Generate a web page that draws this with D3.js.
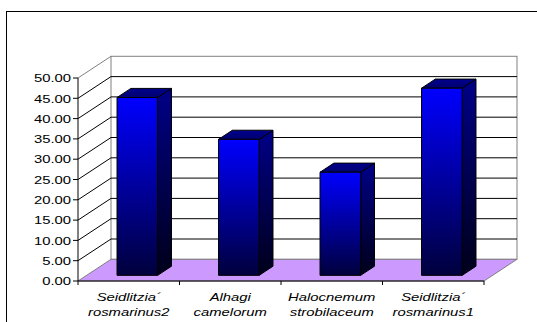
<!DOCTYPE html>
<html>
<head>
<meta charset="utf-8">
<script src="https://cdn.jsdelivr.net/npm/d3@7"></script>
<style>
  body { margin: 0; background: #fff; }
  svg text { font-family: Arial, "Liberation Sans", sans-serif; }
</style>
</head>
<body>
<svg id="chart" width="537" height="322"></svg>
<script>
// Data
const categories = ["Seidlitzia´ rosmarinus2", "Alhagi camelorum", "Halocnemum strobilaceum", "Seidlitzia´ rosmarinus1"];
const labelLines = [["Seidlitzia´", "rosmarinus2"], ["Alhagi", "camelorum"], ["Halocnemum", "strobilaceum"], ["Seidlitzia´", "rosmarinus1"]];
const values = [43.8, 33.5, 25.4, 46.1];
const yTicks = [0, 5, 10, 15, 20, 25, 30, 35, 40, 45, 50];

const svg = d3.select('#chart');

// front plane of the 3d box, and the depth offset
const plotLeft = 78, plotRight = 484, plotTop = 78, plotBottom = 281;
const depthX = 33, depthY = -21.7;
const barT0 = 0.26, barT1 = 0.68; // bar sits in the middle of the depth
const stretch = 1.4; // text in the picture is stretched sideways

const y = d3.scaleLinear().domain([0, 50]).range([plotBottom, plotTop]);
const x = d3.scaleBand().domain(categories).range([plotLeft, plotRight])
  .paddingInner(0.6).paddingOuter(0.3);

// project a point at depth t (0 = front, 1 = back)
const P = (px, py, t) => [px + depthX * t, py + depthY * t];
const poly = pts => pts.map(p => p.join(',')).join(' ');

// outer frame
svg.append('rect')
  .attr('x', 6.5).attr('y', 11.5)
  .attr('width', 540).attr('height', 330)
  .attr('fill', 'none').attr('stroke', '#000');

// gradients for bars
const defs = svg.append('defs');
function grad(id, c1, c2) {
  const g = defs.append('linearGradient').attr('id', id)
    .attr('x1', 0).attr('y1', 0).attr('x2', 0).attr('y2', 1);
  g.append('stop').attr('offset', '0%').attr('stop-color', c1);
  g.append('stop').attr('offset', '100%').attr('stop-color', c2);
}
grad('gFront', '#0000ff', '#00003c');
grad('gSide', '#000088', '#00001a');
grad('gTop', '#00008c', '#000070');

const y50 = y(50), y0 = y(0);

// left side wall
svg.append('polygon')
  .attr('points', poly([[plotLeft, y50], P(plotLeft, y50, 1), P(plotLeft, y0, 1), [plotLeft, y0]]))
  .attr('fill', '#fff').attr('stroke', 'none');

// back wall
const bw0 = P(plotLeft, y50, 1), bw1 = P(plotRight, y0, 1);
svg.append('rect')
  .attr('x', bw0[0]).attr('y', bw0[1])
  .attr('width', bw1[0] - bw0[0]).attr('height', bw1[1] - bw0[1])
  .attr('fill', '#fff').attr('stroke', '#808080');

// gridlines on the back wall and diagonals on the left wall
yTicks.filter(d => d > 0 && d < 50).forEach(d => {
  const a = P(plotLeft, y(d), 1), b = P(plotRight, y(d), 1);
  svg.append('line')
    .attr('x1', a[0]).attr('y1', a[1]).attr('x2', b[0]).attr('y2', b[1])
    .attr('stroke', '#000').attr('stroke-width', 1);
  svg.append('line')
    .attr('x1', plotLeft).attr('y1', y(d)).attr('x2', a[0]).attr('y2', a[1])
    .attr('stroke', '#000').attr('stroke-width', 1);
});
// top diagonal of left wall
svg.append('line')
  .attr('x1', plotLeft).attr('y1', y50).attr('x2', bw0[0]).attr('y2', bw0[1])
  .attr('stroke', '#808080');

// floor
svg.append('polygon')
  .attr('points', poly([[plotLeft, y0], [plotRight, y0], P(plotRight, y0, 1), P(plotLeft, y0, 1)]))
  .attr('fill', '#cc99ff').attr('stroke', '#808080');

// bars
values.forEach((v, i) => {
  const c = categories[i];
  const xl = x(c), xr = x(c) + x.bandwidth();
  const yt = y(v);
  const fl = P(xl, yt, barT0), fr = P(xr, yt, barT0);
  const flb = P(xl, y0, barT0), frb = P(xr, y0, barT0);
  const bl = P(xl, yt, barT1), br = P(xr, yt, barT1), brb = P(xr, y0, barT1);
  const g = svg.append('g').attr('stroke', '#000').attr('stroke-width', 1).attr('stroke-linejoin', 'round');
  g.append('polygon').attr('points', poly([fr, br, brb, frb])).attr('fill', 'url(#gSide)');
  g.append('polygon').attr('points', poly([fl, fr, br, bl])).attr('fill', 'url(#gTop)');
  g.append('polygon').attr('points', poly([fl, fr, frb, flb])).attr('fill', 'url(#gFront)');
});

// y axis
svg.append('line')
  .attr('x1', plotLeft).attr('y1', y50).attr('x2', plotLeft).attr('y2', y0)
  .attr('stroke', '#000');
yTicks.forEach(d => {
  svg.append('line')
    .attr('x1', plotLeft - 5).attr('y1', y(d)).attr('x2', plotLeft).attr('y2', y(d))
    .attr('stroke', '#000');
  svg.append('text')
    .attr('transform', `translate(71,${y(d) + 4.2}) scale(${stretch},1)`)
    .attr('text-anchor', 'end')
    .attr('font-size', 10.6)
    .attr('fill', '#000')
    .text(d3.format('.2f')(d));
});

// x axis along the front of the floor
svg.append('line')
  .attr('x1', plotLeft).attr('y1', y0).attr('x2', plotRight).attr('y2', y0)
  .attr('stroke', '#000');
const step = (plotRight - plotLeft) / categories.length;
d3.range(categories.length + 1).forEach(k => {
  svg.append('line')
    .attr('x1', plotLeft + k * step).attr('y1', y0)
    .attr('x2', plotLeft + k * step).attr('y2', y0 + 4)
    .attr('stroke', '#000');
});

categories.forEach((c, i) => {
  const cx = x(c) + x.bandwidth() / 2;
  labelLines[i].forEach((line, j) => {
    svg.append('text')
      .attr('transform', `translate(${cx},${y0 + 19.5 + j * 15.7}) scale(${stretch},1)`)
      .attr('text-anchor', 'middle')
      .attr('font-size', 10.6)
      .attr('font-style', 'italic')
      .attr('fill', '#000')
      .text(line);
  });
});
</script>
</body>
</html>
